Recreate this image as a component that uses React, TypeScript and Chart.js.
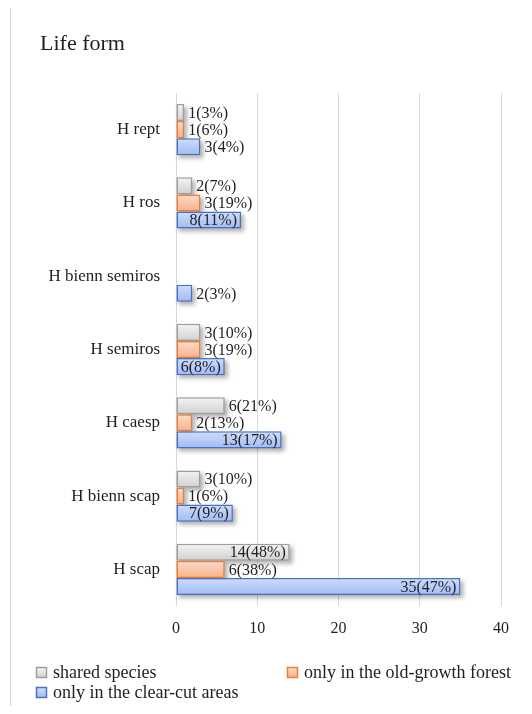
import React, { useEffect, useRef } from "react";
import { Chart, registerables } from "chart.js";

Chart.register(...registerables);

const categories = [
  "H rept",
  "H ros",
  "H bienn semiros",
  "H semiros",
  "H caesp",
  "H bienn scap",
  "H scap",
];
const seriesNames = [
  "shared species",
  "only in the old-growth forest",
  "only in the clear-cut areas",
];
const sharedValues = [1, 2, null, 3, 6, 3, 14];
const sharedPct = [3, 7, null, 10, 21, 10, 48];
const oldGrowthValues = [1, 3, null, 3, 2, 1, 6];
const oldGrowthPct = [6, 19, null, 19, 13, 6, 38];
const clearCutValues = [3, 8, 2, 6, 13, 7, 35];
const clearCutPct = [4, 11, 3, 8, 17, 9, 47];
const xTicks = [0, 10, 20, 30, 40];

const FONT = "'Liberation Serif', 'DejaVu Serif', serif";
const TEXT = "#1f1f1f";
const CAT_PCT = 0.7;

const styles = [
  { top: "#f5f5f5", bottom: "#d0d0d0", border: "#9e9e9e" },
  { top: "#fddcc8", bottom: "#f7b18b", border: "#ed7d31" },
  { top: "#d0dcfc", bottom: "#a2bbf3", border: "#4472c4" },
];
const pcts = [sharedPct, oldGrowthPct, clearCutPct];

const makeFill = (si: number) => (ctx: any) => {
  const s = styles[si];
  const chart = ctx.chart;
  const y = chart.scales && chart.scales.y;
  if (!y || ctx.type !== "data" || !chart.chartArea) return s.bottom;
  const cat = y.getPixelForValue(ctx.dataIndex);
  const catW = (y.bottom - y.top) / categories.length;
  const groupH = catW * CAT_PCT;
  const barH = groupH / 3;
  const y0 = cat - groupH / 2 + ctx.datasetIndex * barH;
  if (!Number.isFinite(y0) || !Number.isFinite(barH) || barH <= 0) return s.bottom;
  const g = chart.ctx.createLinearGradient(0, y0, 0, y0 + barH);
  g.addColorStop(0, s.top);
  g.addColorStop(1, s.bottom);
  return g;
};

const shadowPlugin = {
  id: "barShadow",
  beforeDatasetsDraw(chart: any) {
    const ctx = chart.ctx;
    ctx.save();
    ctx.filter = "blur(2px)";
    ctx.fillStyle = "rgba(0,0,0,0.3)";
    chart.data.datasets.forEach((ds: any, di: number) => {
      const meta = chart.getDatasetMeta(di);
      meta.data.forEach((el: any, i: number) => {
        if (ds.data[i] == null) return;
        const p = el.getProps(["x", "y", "base", "height"], true);
        const l = Math.min(p.x, p.base);
        const w = Math.abs(p.x - p.base);
        ctx.fillRect(l + 2, p.y - p.height / 2 + 3, w + 1, p.height);
      });
    });
    ctx.restore();
  },
};

const labelPlugin = {
  id: "barLabels",
  afterDatasetsDraw(chart: any) {
    const ctx = chart.ctx;
    ctx.save();
    ctx.font = `16px ${FONT}`;
    ctx.fillStyle = TEXT;
    ctx.textBaseline = "middle";
    chart.data.datasets.forEach((ds: any, di: number) => {
      const meta = chart.getDatasetMeta(di);
      meta.data.forEach((el: any, i: number) => {
        const v = ds.data[i];
        if (v == null) return;
        const text = `${v}(${pcts[di][i]}%)`;
        const p = el.getProps(["x", "y", "base"], true);
        const w = ctx.measureText(text).width;
        const barW = p.x - p.base;
        if (w + 6 <= barW) {
          ctx.textAlign = "right";
          ctx.fillText(text, p.x - 4, p.y + 1);
        } else {
          ctx.textAlign = "left";
          ctx.fillText(text, p.x + 4, p.y + 1);
        }
      });
    });
    ctx.restore();
  },
};

const titleLegendPlugin = {
  id: "titleLegend",
  afterDraw(chart: any) {
    const ctx = chart.ctx;
    ctx.save();
    ctx.fillStyle = TEXT;
    ctx.font = `22px ${FONT}`;
    ctx.textAlign = "left";
    ctx.textBaseline = "alphabetic";
    ctx.fillText("Life form", 29, 42);

    const items = [
      { x: 25, y: 664 },
      { x: 276, y: 664 },
      { x: 25, y: 684 },
    ];
    ctx.font = `18px ${FONT}`;
    ctx.textBaseline = "middle";
    items.forEach((it, i) => {
      const s = styles[i];
      const bx = it.x + 0.5;
      const by = it.y - 5 + 0.5;
      const g = ctx.createLinearGradient(0, by, 0, by + 10);
      g.addColorStop(0, s.top);
      g.addColorStop(1, s.bottom);
      ctx.fillStyle = g;
      ctx.fillRect(bx, by, 10, 10);
      ctx.strokeStyle = s.border;
      ctx.lineWidth = 1.5;
      ctx.strokeRect(bx, by, 10, 10);
      ctx.fillStyle = TEXT;
      ctx.fillText(seriesNames[i], it.x + 17, it.y + 1);
    });
    ctx.restore();
  },
};

export default function App() {
  const ref = useRef<HTMLCanvasElement | null>(null);

  useEffect(() => {
    document.body.style.overflow = "hidden";
    const canvas = ref.current;
    if (!canvas) return;
    const seriesValues = [sharedValues, oldGrowthValues, clearCutValues];
    const chart = new Chart(canvas, {
      type: "bar",
      data: {
        labels: categories,
        datasets: seriesValues.map((vals, si) => ({
          label: seriesNames[si],
          data: vals as any,
          backgroundColor: makeFill(si),
          borderColor: styles[si].border,
          borderWidth: 1.5,
          borderSkipped: false,
          categoryPercentage: CAT_PCT,
          barPercentage: 1,
        })),
      },
      options: {
        indexAxis: "y",
        responsive: false,
        animation: false,
        devicePixelRatio: 1,
        layout: { padding: { top: 85, right: 31, bottom: 70, left: 0 } },
        plugins: {
          legend: { display: false },
          title: { display: false },
          tooltip: { enabled: false },
        },
        scales: {
          x: {
            min: 0,
            max: 40,
            afterBuildTicks: (scale: any) => {
              scale.ticks = xTicks.map((v) => ({ value: v }));
            },
            afterFit: (scale: any) => {
              scale.height = 30;
            },
            grid: { color: "#d9d9d9", lineWidth: 1, drawTicks: false },
            border: { display: false },
            ticks: {
              padding: 13,
              color: TEXT,
              font: { family: FONT, size: 16 },
            },
          },
          y: {
            afterFit: (scale: any) => {
              scale.width = 165;
            },
            grid: { display: false, drawTicks: false },
            border: { display: false },
            ticks: {
              padding: 16,
              color: TEXT,
              font: { family: FONT, size: 17 },
            },
          },
        },
      },
      plugins: [shadowPlugin, labelPlugin, titleLegendPlugin],
    } as any);
    return () => chart.destroy();
  }, []);

  return (
    <div
      style={{
        marginLeft: 2,
        marginTop: -1,
        width: 522,
        height: 699,
        boxSizing: "border-box",
        borderTop: "1px solid #d9d9d9",
        borderLeft: "1px solid #d9d9d9",
        background: "#fff",
      }}
    >
      <canvas ref={ref} width={521} height={698} style={{ display: "block" }} />
    </div>
  );
}
